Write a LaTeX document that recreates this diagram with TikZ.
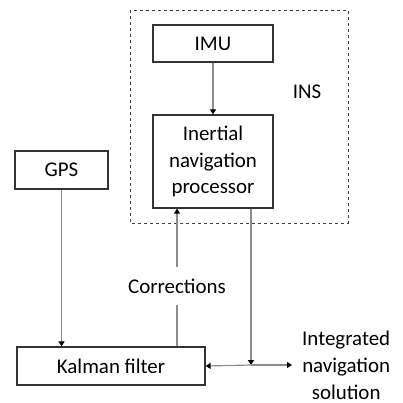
\documentclass[tikz,border=0pt]{standalone}
\usepackage{fontspec}
\setmainfont{Carlito}
\usetikzlibrary{arrows.meta}
\begin{document}
\begin{tikzpicture}[x=1bp,y=-1bp,
  blk/.style={draw=black!80,line width=1.3bp,inner sep=0pt,font=\fontsize{21}{27}\selectfont,align=center},
  conn/.style={draw=black!45,line width=1.2bp,-{Triangle[width=6bp,length=5bp,color=black]}},
  plain/.style={draw=black!45,line width=1.2bp},
  lbl/.style={font=\fontsize{21}{27}\selectfont,align=center,inner sep=1bp}]
\useasboundingbox (0,0) rectangle (403,403);
\draw[dashed,black!75,line width=0.9bp] (130,10) rectangle (348,223);
\node[blk,minimum width=120bp,minimum height=37bp] (imu) at (213,43.5) {IMU};
\node[blk,minimum width=120bp,minimum height=93bp] (inp) at (213,161.5) {Inertial\\navigation\\processor};
\node[lbl] (ins) at (307,92) {INS};
\node[blk,minimum width=93bp,minimum height=38bp] (gps) at (61.5,170) {GPS};
\node[blk,minimum width=188bp,minimum height=38bp] (kf) at (111,366) {Kalman filter};
\node[lbl,fill=white,minimum width=130bp,minimum height=38bp] (corr) at (177,286) {Corrections};
\node[lbl,anchor=west,inner sep=0pt] (sol) at (302,365) {Integrated\\navigation\\solution};
\coordinate (j) at (251,365);
\draw[conn] (imu) -- (inp);
\draw[conn] (gps.south) -- (gps.south |- kf.north);
\draw[plain] (kf.north -| corr) -- (corr.south);
\draw[conn] (corr.north) -- (corr |- inp.south);
\draw[conn] (inp.south -| j) -- (j);
\draw[conn] (j) -- (kf.east);
\draw[conn] (j) -- ([xshift=-10bp]sol.west);
\end{tikzpicture}
\end{document}
